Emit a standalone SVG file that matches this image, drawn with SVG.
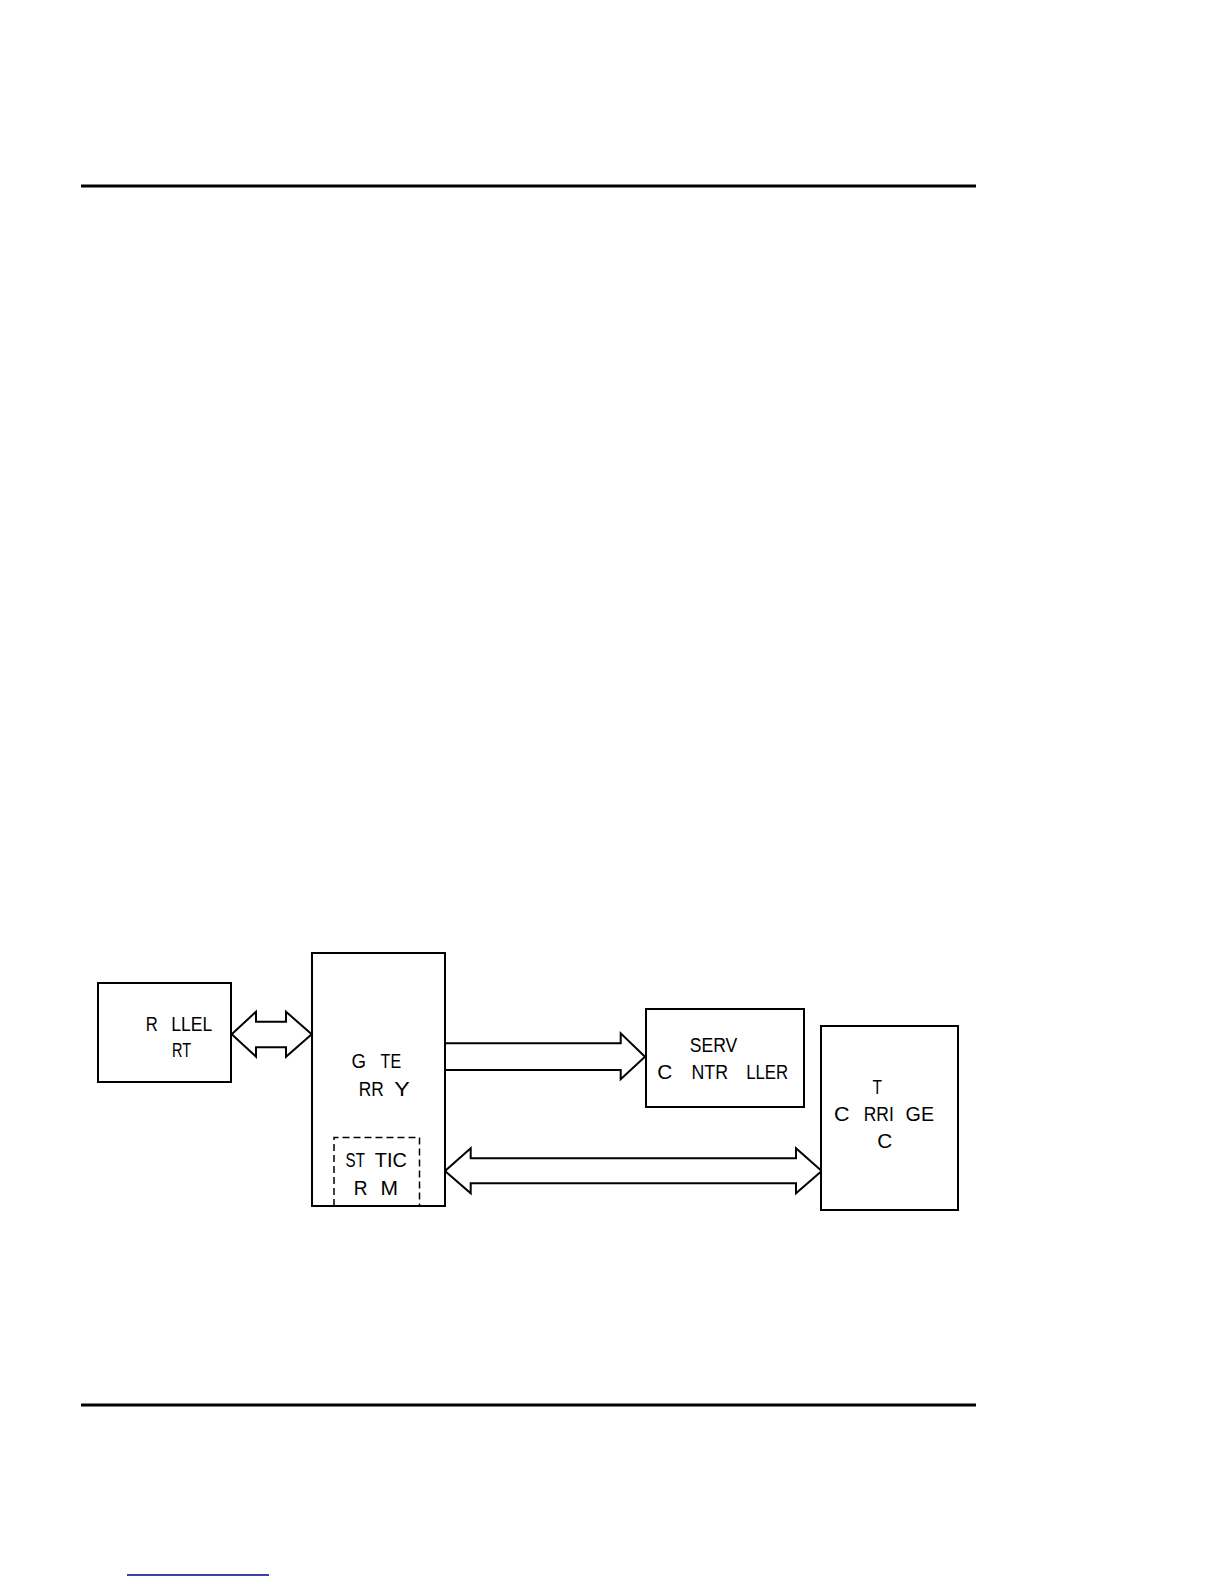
<svg xmlns="http://www.w3.org/2000/svg" width="1224" height="1584" viewBox="0 0 1224 1584">
<style>
.box{fill:#fff;stroke:#000;stroke-width:2}
.dash{fill:none;stroke:#000;stroke-width:1.5;stroke-dasharray:7 4}
.arr{fill:#fff;stroke:#000;stroke-width:2;stroke-linejoin:miter}
.rule{stroke:#000;stroke-width:3}
.t{font-family:"Liberation Sans",Arial,sans-serif;font-size:19.5px;fill:#000}
</style>
<rect width="1224" height="1584" fill="#fff"/>
<line class="rule" x1="81" y1="186" x2="976" y2="186"/>
<line class="rule" x1="81" y1="1405" x2="976" y2="1405"/>
<line x1="127" y1="1575" x2="269" y2="1575" stroke="#000080" stroke-width="1.5"/>

<g id="connectors">
<polygon class="arr" points="231.7,1034.3 256,1011.7 256,1021.7 286,1021.7 286,1011.7 311.7,1034.3 286,1056.7 286,1047.3 256,1047.3 256,1056.7"/>
<path class="arr" d="M445,1043.3 H620.7 V1033.3 L645,1056.7 L620.7,1079.3 V1070 H445"/>
<polygon class="arr" points="445,1171 470.7,1148.3 470.7,1158.3 796,1158.3 796,1148.3 821.7,1171 796,1193.3 796,1183.3 470.7,1183.3 470.7,1193.3"/>
</g>

<g id="parallel-port">
<rect class="box" x="98" y="983" width="133" height="99"/>
<text class="t" y="1030.5"><tspan x="145.8" textLength="12" lengthAdjust="spacingAndGlyphs">R</tspan> <tspan x="171.3" textLength="41" lengthAdjust="spacingAndGlyphs">LLEL</tspan></text>
<text class="t" y="1056.5"><tspan x="172" textLength="19" lengthAdjust="spacingAndGlyphs">RT</tspan></text>
</g>

<g id="gate-array">
<rect class="box" x="312" y="953" width="133" height="253"/>
<text class="t" y="1068.3"><tspan x="351.5" textLength="14.5" lengthAdjust="spacingAndGlyphs">G</tspan> <tspan x="380.6" textLength="20.5" lengthAdjust="spacingAndGlyphs">TE</tspan></text>
<text class="t" y="1096"><tspan x="358.7" textLength="25" lengthAdjust="spacingAndGlyphs">RR</tspan> <tspan x="394.2" textLength="15.5" lengthAdjust="spacingAndGlyphs">Y</tspan></text>
<g id="static-rom">
<path class="dash" d="M334,1206 V1137.5 H419.5 V1206"/>
<text class="t" y="1167.3"><tspan x="345.6" textLength="19" lengthAdjust="spacingAndGlyphs">ST</tspan> <tspan x="374.8" textLength="32" lengthAdjust="spacingAndGlyphs">TIC</tspan></text>
<text class="t" y="1195"><tspan x="353.8" textLength="13.8" lengthAdjust="spacingAndGlyphs">R</tspan> <tspan x="380.5" textLength="17.5" lengthAdjust="spacingAndGlyphs">M</tspan></text>
</g>
</g>

<g id="servo-controller">
<rect class="box" x="646" y="1009" width="158" height="98"/>
<text class="t" y="1051.7"><tspan x="689.8" textLength="47.5" lengthAdjust="spacingAndGlyphs">SERV</tspan></text>
<text class="t" y="1079.3"><tspan x="657.2" textLength="15" lengthAdjust="spacingAndGlyphs">C</tspan> <tspan x="691.5" textLength="36.5" lengthAdjust="spacingAndGlyphs">NTR</tspan> <tspan x="746.2" textLength="42" lengthAdjust="spacingAndGlyphs">LLER</tspan></text>
</g>

<g id="tape-carriage">
<rect class="box" x="821" y="1026" width="137" height="184"/>
<text class="t" y="1093.5"><tspan x="872.5" textLength="9.5" lengthAdjust="spacingAndGlyphs">T</tspan></text>
<text class="t" y="1120.8"><tspan x="834" textLength="15.5" lengthAdjust="spacingAndGlyphs">C</tspan> <tspan x="863.8" textLength="30" lengthAdjust="spacingAndGlyphs">RRI</tspan> <tspan x="905.6" textLength="28.5" lengthAdjust="spacingAndGlyphs">GE</tspan></text>
<text class="t" y="1147.5"><tspan x="877.3" textLength="15" lengthAdjust="spacingAndGlyphs">C</tspan></text>
</g>
</svg>
